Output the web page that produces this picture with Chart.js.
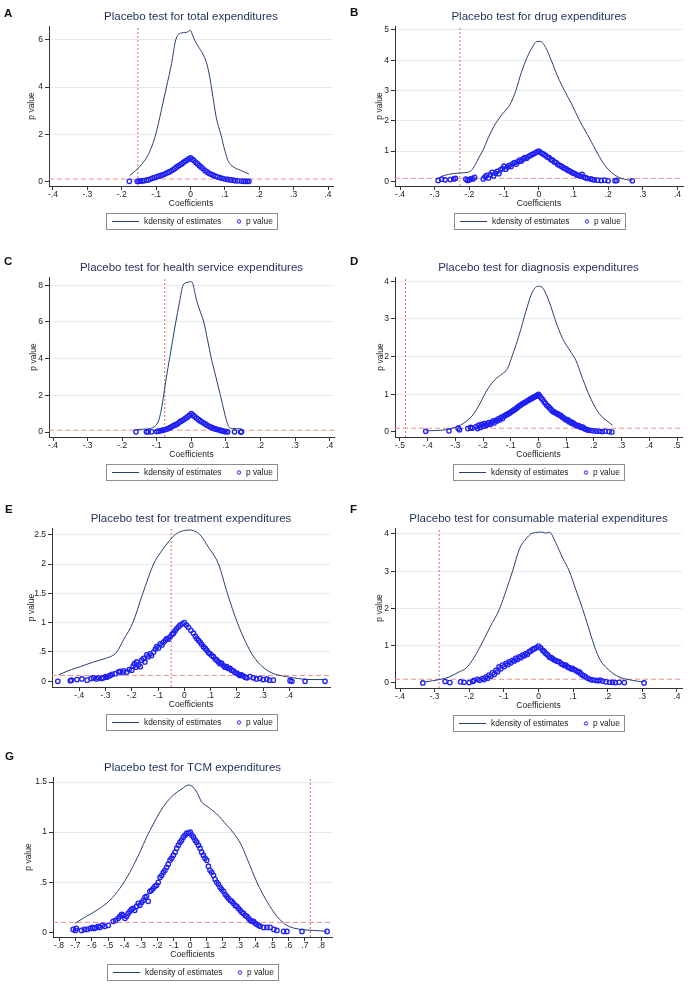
<!DOCTYPE html>
<html>
<head>
<meta charset="utf-8">
<script src="https://cdn.jsdelivr.net/npm/chart.js@4.4.0/dist/chart.umd.min.js"></script>
<style>
body { margin: 0; background: #fff; width: 693px; height: 992px; position: relative; overflow: hidden; font-family: "Liberation Sans", Arial, sans-serif; }
.panel { position: absolute; }
.tag { position: absolute; font-weight: bold; font-size: 11.5px; line-height: 11.5px; color: #111; }
</style>
</head>
<body>
<script>
// ---- data ----
const tick4 = [-0.4, -0.3, -0.2, -0.1, 0, 0.1, 0.2, 0.3, 0.4];
const tick5 = [-0.5, -0.4, -0.3, -0.2, -0.1, 0, 0.1, 0.2, 0.3, 0.4, 0.5];
const tick8 = [-0.8, -0.7, -0.6, -0.5, -0.4, -0.3, -0.2, -0.1, 0, 0.1, 0.2, 0.3, 0.4, 0.5, 0.6, 0.7, 0.8];

const aYTicks = [0, 2, 4, 6];
const bYTicks = [0, 1, 2, 3, 4, 5];
const cYTicks = [0, 2, 4, 6, 8];
const dYTicks = [0, 1, 2, 3, 4];
const eYTicks = [0, 0.5, 1, 1.5, 2, 2.5];
const fYTicks = [0, 1, 2, 3, 4];
const gYTicks = [0, 0.5, 1, 1.5];

const pThreshold = 0.1;

// A total
const aDensity = [[-0.177,0.24],[-0.16,0.45],[-0.148,0.62],[-0.135,0.85],[-0.124,1.1],[-0.112,1.5],[-0.101,2.0],[-0.085,3.0],[-0.07,4.0],[-0.055,5.0],[-0.043,6.0],[-0.029,6.28],[-0.012,6.32],[0,6.4],[0.006,6.2],[0.015,5.9],[0.03,5.55],[0.045,5.1],[0.055,4.5],[0.065,3.6],[0.075,2.7],[0.088,2.0],[0.1,1.3],[0.11,0.85],[0.124,0.62],[0.145,0.47],[0.17,0.31]];
const aPvalue = [[-0.178,0.0],[-0.155,0.0],[-0.15,0.01],[-0.145,0.01],[-0.14,0.02],[-0.135,0.03],[-0.128,0.05],[-0.122,0.07],[-0.116,0.1],[-0.11,0.14],[-0.104,0.16],[-0.098,0.19],[-0.092,0.22],[-0.086,0.25],[-0.08,0.28],[-0.074,0.32],[-0.068,0.36],[-0.062,0.4],[-0.056,0.45],[-0.05,0.5],[-0.045,0.55],[-0.04,0.61],[-0.035,0.66],[-0.03,0.7],[-0.025,0.75],[-0.02,0.81],[-0.015,0.86],[-0.01,0.9],[-0.005,0.95],[0,1.0],[0.005,0.94],[0.01,0.88],[0.015,0.81],[0.02,0.75],[0.025,0.68],[0.03,0.61],[0.036,0.54],[0.042,0.46],[0.048,0.4],[0.054,0.34],[0.06,0.3],[0.066,0.26],[0.072,0.22],[0.078,0.19],[0.085,0.16],[0.092,0.13],[0.1,0.1],[0.108,0.08],[0.116,0.06],[0.124,0.05],[0.13,0.03],[0.138,0.02],[0.148,0.01],[0.155,0.0],[0.16,0.0],[0.165,0.0],[0.17,0.0]];

// B drug
const bDensity = [[-0.282,0.16],[-0.26,0.23],[-0.235,0.27],[-0.21,0.29],[-0.195,0.35],[-0.183,0.55],[-0.172,0.8],[-0.162,1.0],[-0.145,1.45],[-0.13,1.8],[-0.119,2.0],[-0.105,2.22],[-0.094,2.36],[-0.08,2.6],[-0.066,3.0],[-0.05,3.6],[-0.037,4.0],[-0.02,4.4],[-0.005,4.62],[0.005,4.62],[0.02,4.42],[0.036,4.0],[0.055,3.45],[0.074,3.0],[0.095,2.55],[0.118,2.0],[0.14,1.55],[0.166,1.0],[0.185,0.62],[0.2,0.4],[0.22,0.2],[0.24,0.09],[0.27,0.03]];
const bPvalue = [[-0.29,0.03],[-0.28,0.07],[-0.27,0.05],[-0.255,0.06],[-0.245,0.08],[-0.24,0.1],[-0.21,0.07],[-0.205,0.03],[-0.2,0.05],[-0.195,0.09],[-0.19,0.08],[-0.185,0.13],[-0.16,0.08],[-0.155,0.15],[-0.15,0.2],[-0.145,0.11],[-0.14,0.22],[-0.135,0.3],[-0.13,0.18],[-0.125,0.27],[-0.12,0.33],[-0.115,0.25],[-0.11,0.38],[-0.105,0.42],[-0.1,0.5],[-0.095,0.4],[-0.09,0.47],[-0.085,0.53],[-0.08,0.49],[-0.075,0.58],[-0.07,0.62],[-0.065,0.57],[-0.06,0.65],[-0.055,0.7],[-0.05,0.67],[-0.045,0.74],[-0.04,0.78],[-0.035,0.76],[-0.03,0.82],[-0.025,0.85],[-0.02,0.88],[-0.015,0.91],[-0.01,0.94],[-0.005,0.97],[0,1.0],[0.005,0.96],[0.01,0.92],[0.015,0.89],[0.02,0.85],[0.025,0.8],[0.03,0.78],[0.035,0.72],[0.04,0.7],[0.045,0.64],[0.05,0.62],[0.055,0.56],[0.06,0.53],[0.065,0.5],[0.07,0.46],[0.075,0.43],[0.08,0.4],[0.085,0.36],[0.09,0.34],[0.095,0.3],[0.1,0.27],[0.105,0.25],[0.11,0.21],[0.115,0.2],[0.12,0.17],[0.125,0.23],[0.13,0.14],[0.135,0.12],[0.14,0.1],[0.15,0.08],[0.155,0.06],[0.16,0.05],[0.17,0.04],[0.18,0.03],[0.19,0.04],[0.2,0.02],[0.22,0.02],[0.225,0.03],[0.27,0.02]];

// C health service
const cDensity = [[-0.159,0.13],[-0.135,0.16],[-0.118,0.2],[-0.105,0.32],[-0.095,0.6],[-0.087,1.2],[-0.08,2.0],[-0.072,3.0],[-0.063,4.0],[-0.054,5.0],[-0.045,6.0],[-0.035,7.0],[-0.024,8.0],[-0.012,8.15],[-0.003,8.2],[0.005,8.05],[0.01,7.6],[0.014,7.27],[0.025,6.6],[0.036,6.0],[0.047,5.0],[0.058,4.0],[0.071,3.0],[0.084,2.0],[0.094,1.2],[0.102,0.6],[0.108,0.3],[0.115,0.2],[0.145,0.18]];
const cPvalue = [[-0.16,0.01],[-0.13,0.01],[-0.125,0.01],[-0.115,0.01],[-0.1,0.03],[-0.095,0.05],[-0.09,0.07],[-0.085,0.09],[-0.08,0.12],[-0.075,0.14],[-0.07,0.17],[-0.065,0.21],[-0.06,0.26],[-0.055,0.31],[-0.05,0.36],[-0.045,0.4],[-0.04,0.45],[-0.035,0.53],[-0.03,0.59],[-0.025,0.64],[-0.02,0.71],[-0.015,0.77],[-0.01,0.84],[-0.005,0.92],[0,1.0],[0.005,0.92],[0.01,0.84],[0.015,0.76],[0.02,0.69],[0.025,0.62],[0.03,0.56],[0.035,0.5],[0.04,0.44],[0.045,0.38],[0.05,0.33],[0.055,0.28],[0.06,0.24],[0.065,0.2],[0.07,0.17],[0.075,0.14],[0.08,0.12],[0.085,0.09],[0.09,0.06],[0.095,0.04],[0.1,0.02],[0.105,0.01],[0.125,0.01],[0.143,0.0],[0.145,0.01]];

// D diagnosis
const dDensity = [[-0.407,0.03],[-0.335,0.06],[-0.299,0.13],[-0.263,0.27],[-0.233,0.49],[-0.208,0.8],[-0.19,1.06],[-0.16,1.37],[-0.13,1.55],[-0.112,1.68],[-0.094,2.04],[-0.07,2.57],[-0.046,3.19],[-0.022,3.72],[0,3.87],[0.017,3.81],[0.039,3.45],[0.063,2.92],[0.087,2.48],[0.117,2.12],[0.135,1.9],[0.159,1.42],[0.189,0.88],[0.219,0.49],[0.267,0.18]];
const dPvalue = [[-0.407,0.02],[-0.323,0.03],[-0.29,0.1],[-0.285,0.06],[-0.255,0.09],[-0.245,0.12],[-0.24,0.1],[-0.225,0.14],[-0.22,0.09],[-0.215,0.18],[-0.21,0.12],[-0.205,0.2],[-0.2,0.15],[-0.195,0.22],[-0.19,0.17],[-0.185,0.21],[-0.18,0.25],[-0.175,0.2],[-0.17,0.24],[-0.165,0.29],[-0.16,0.24],[-0.155,0.31],[-0.15,0.29],[-0.145,0.35],[-0.14,0.32],[-0.135,0.39],[-0.13,0.36],[-0.125,0.42],[-0.12,0.44],[-0.115,0.46],[-0.11,0.48],[-0.105,0.5],[-0.1,0.53],[-0.095,0.55],[-0.09,0.58],[-0.085,0.6],[-0.08,0.63],[-0.075,0.66],[-0.07,0.69],[-0.065,0.71],[-0.06,0.74],[-0.055,0.76],[-0.05,0.78],[-0.045,0.8],[-0.04,0.83],[-0.035,0.85],[-0.03,0.87],[-0.025,0.89],[-0.02,0.91],[-0.015,0.93],[-0.01,0.95],[-0.005,0.97],[0,1.0],[0.005,0.95],[0.01,0.9],[0.015,0.86],[0.02,0.8],[0.025,0.76],[0.03,0.71],[0.035,0.68],[0.04,0.64],[0.045,0.6],[0.05,0.56],[0.055,0.53],[0.06,0.52],[0.065,0.49],[0.07,0.48],[0.075,0.45],[0.08,0.44],[0.085,0.4],[0.09,0.38],[0.095,0.35],[0.1,0.32],[0.105,0.33],[0.11,0.27],[0.115,0.28],[0.12,0.23],[0.125,0.24],[0.13,0.2],[0.135,0.19],[0.14,0.16],[0.145,0.17],[0.15,0.14],[0.155,0.12],[0.16,0.13],[0.165,0.09],[0.17,0.08],[0.175,0.06],[0.18,0.05],[0.19,0.04],[0.2,0.03],[0.21,0.02],[0.22,0.02],[0.23,0.01],[0.24,0.02],[0.255,0.01],[0.265,0.0]];

// E treatment
const eDensity = [[-0.479,0.11],[-0.43,0.2],[-0.396,0.25],[-0.346,0.33],[-0.3,0.39],[-0.269,0.45],[-0.257,0.5],[-0.23,0.72],[-0.196,1.0],[-0.158,1.5],[-0.117,2.0],[-0.09,2.2],[-0.06,2.38],[-0.035,2.5],[-0.01,2.56],[0.022,2.58],[0.045,2.55],[0.06,2.5],[0.09,2.3],[0.13,2.0],[0.164,1.5],[0.202,1.0],[0.253,0.5],[0.29,0.28],[0.33,0.15],[0.365,0.1],[0.415,0.06],[0.479,0.03],[0.536,0.03]];
const ePvalue = [[-0.482,0.0],[-0.434,0.01],[-0.43,0.02],[-0.409,0.03],[-0.39,0.04],[-0.37,0.02],[-0.355,0.05],[-0.346,0.06],[-0.335,0.04],[-0.327,0.06],[-0.315,0.05],[-0.308,0.06],[-0.3,0.08],[-0.295,0.07],[-0.288,0.09],[-0.282,0.1],[-0.275,0.12],[-0.263,0.13],[-0.25,0.16],[-0.244,0.17],[-0.235,0.15],[-0.231,0.18],[-0.219,0.16],[-0.21,0.2],[-0.2,0.19],[-0.195,0.26],[-0.19,0.3],[-0.185,0.24],[-0.181,0.33],[-0.175,0.28],[-0.168,0.25],[-0.162,0.36],[-0.155,0.39],[-0.15,0.33],[-0.143,0.45],[-0.137,0.42],[-0.13,0.47],[-0.125,0.44],[-0.117,0.5],[-0.11,0.55],[-0.105,0.59],[-0.098,0.57],[-0.092,0.64],[-0.085,0.62],[-0.079,0.67],[-0.072,0.7],[-0.067,0.73],[-0.06,0.72],[-0.054,0.76],[-0.047,0.8],[-0.041,0.82],[-0.035,0.86],[-0.029,0.9],[-0.022,0.93],[-0.016,0.96],[-0.008,0.98],[0,1.0],[0.008,0.96],[0.016,0.92],[0.025,0.87],[0.035,0.82],[0.042,0.77],[0.048,0.73],[0.054,0.7],[0.06,0.67],[0.066,0.63],[0.073,0.59],[0.08,0.56],[0.086,0.53],[0.092,0.49],[0.098,0.47],[0.105,0.44],[0.111,0.42],[0.118,0.38],[0.124,0.36],[0.13,0.33],[0.136,0.3],[0.142,0.31],[0.149,0.27],[0.155,0.24],[0.162,0.25],[0.168,0.22],[0.174,0.22],[0.18,0.19],[0.187,0.18],[0.193,0.15],[0.2,0.14],[0.206,0.12],[0.212,0.1],[0.218,0.11],[0.225,0.09],[0.232,0.07],[0.238,0.06],[0.25,0.08],[0.263,0.06],[0.275,0.04],[0.288,0.05],[0.3,0.03],[0.314,0.04],[0.325,0.02],[0.339,0.02],[0.403,0.01],[0.41,0.0],[0.46,0.0],[0.536,0.0]];

// F consumable material
const fDensity = [[-0.326,0.03],[-0.287,0.09],[-0.258,0.16],[-0.229,0.3],[-0.21,0.39],[-0.191,0.61],[-0.167,1.0],[-0.14,1.5],[-0.112,2.0],[-0.093,2.5],[-0.075,3.0],[-0.055,3.6],[-0.035,3.88],[-0.022,4.0],[-0.008,4.04],[0.012,4.05],[0.021,4.02],[0.031,4.05],[0.05,3.76],[0.07,3.35],[0.089,3.0],[0.108,2.5],[0.127,2.0],[0.144,1.5],[0.161,1.0],[0.178,0.62],[0.204,0.34],[0.233,0.16],[0.272,0.07],[0.3,0.03]];
const fPvalue = [[-0.334,0.0],[-0.27,0.04],[-0.256,0.01],[-0.225,0.03],[-0.215,0.02],[-0.2,0.01],[-0.19,0.04],[-0.186,0.07],[-0.176,0.1],[-0.17,0.07],[-0.162,0.12],[-0.157,0.09],[-0.152,0.16],[-0.147,0.13],[-0.143,0.21],[-0.138,0.18],[-0.133,0.27],[-0.128,0.23],[-0.123,0.34],[-0.118,0.3],[-0.114,0.43],[-0.109,0.38],[-0.104,0.48],[-0.099,0.44],[-0.094,0.52],[-0.089,0.49],[-0.085,0.57],[-0.08,0.54],[-0.075,0.61],[-0.07,0.59],[-0.066,0.66],[-0.061,0.63],[-0.056,0.7],[-0.051,0.68],[-0.046,0.75],[-0.041,0.73],[-0.037,0.79],[-0.032,0.77],[-0.027,0.84],[-0.022,0.86],[-0.017,0.9],[-0.012,0.92],[-0.006,0.95],[0,0.99],[0.006,0.94],[0.012,0.88],[0.017,0.84],[0.021,0.79],[0.026,0.76],[0.031,0.7],[0.036,0.68],[0.04,0.66],[0.045,0.62],[0.05,0.6],[0.055,0.58],[0.06,0.57],[0.065,0.52],[0.07,0.5],[0.075,0.47],[0.079,0.48],[0.084,0.43],[0.089,0.41],[0.094,0.38],[0.098,0.39],[0.103,0.36],[0.108,0.34],[0.113,0.3],[0.118,0.3],[0.122,0.25],[0.127,0.21],[0.132,0.19],[0.137,0.16],[0.144,0.12],[0.151,0.09],[0.158,0.08],[0.166,0.07],[0.172,0.06],[0.178,0.08],[0.185,0.05],[0.195,0.03],[0.205,0.02],[0.214,0.02],[0.222,0.01],[0.233,0.02],[0.248,0.01],[0.305,0.0]];

// G TCM
const gDensity = [[-0.704,0.09],[-0.633,0.16],[-0.551,0.24],[-0.49,0.32],[-0.429,0.44],[-0.368,0.6],[-0.307,0.8],[-0.266,0.95],[-0.225,1.08],[-0.185,1.2],[-0.143,1.3],[-0.103,1.37],[-0.052,1.43],[-0.011,1.47],[0.009,1.46],[0.04,1.4],[0.07,1.3],[0.101,1.26],[0.162,1.18],[0.223,1.07],[0.274,0.97],[0.315,0.86],[0.346,0.74],[0.407,0.5],[0.468,0.31],[0.529,0.16],[0.59,0.07],[0.672,0.03],[0.753,0.02],[0.835,0.01]];
const gPvalue = [[-0.714,0.03],[-0.7,0.02],[-0.694,0.04],[-0.663,0.02],[-0.645,0.03],[-0.629,0.03],[-0.61,0.04],[-0.596,0.05],[-0.585,0.04],[-0.572,0.05],[-0.56,0.06],[-0.551,0.05],[-0.535,0.07],[-0.521,0.06],[-0.5,0.07],[-0.47,0.11],[-0.455,0.12],[-0.439,0.14],[-0.429,0.16],[-0.418,0.18],[-0.409,0.17],[-0.398,0.14],[-0.388,0.16],[-0.378,0.19],[-0.368,0.21],[-0.358,0.23],[-0.348,0.24],[-0.338,0.22],[-0.327,0.26],[-0.317,0.29],[-0.307,0.27],[-0.296,0.3],[-0.286,0.32],[-0.276,0.35],[-0.266,0.36],[-0.256,0.31],[-0.246,0.41],[-0.236,0.42],[-0.225,0.44],[-0.215,0.46],[-0.205,0.47],[-0.195,0.5],[-0.184,0.55],[-0.174,0.57],[-0.164,0.6],[-0.154,0.62],[-0.144,0.65],[-0.134,0.68],[-0.123,0.72],[-0.113,0.74],[-0.103,0.77],[-0.092,0.8],[-0.082,0.84],[-0.072,0.87],[-0.062,0.9],[-0.052,0.92],[-0.042,0.95],[-0.031,0.97],[-0.021,0.99],[-0.01,0.99],[0,1.0],[0.01,0.97],[0.02,0.95],[0.03,0.92],[0.04,0.9],[0.05,0.87],[0.06,0.84],[0.07,0.8],[0.08,0.77],[0.09,0.74],[0.101,0.72],[0.111,0.66],[0.121,0.62],[0.131,0.6],[0.142,0.57],[0.152,0.53],[0.162,0.5],[0.172,0.48],[0.182,0.45],[0.192,0.43],[0.203,0.41],[0.213,0.38],[0.223,0.36],[0.233,0.34],[0.244,0.32],[0.254,0.31],[0.264,0.29],[0.274,0.27],[0.284,0.26],[0.294,0.24],[0.305,0.22],[0.315,0.2],[0.325,0.19],[0.335,0.17],[0.346,0.16],[0.356,0.14],[0.366,0.12],[0.376,0.11],[0.386,0.11],[0.397,0.09],[0.407,0.08],[0.417,0.07],[0.427,0.06],[0.448,0.05],[0.468,0.05],[0.488,0.05],[0.51,0.03],[0.529,0.02],[0.57,0.01],[0.59,0.01],[0.682,0.01],[0.835,0.01]];

// ---- layout of the seven panels ----
const FONT = "'Liberation Sans', Arial, sans-serif";
const NAVY = '#26406e';
const BLUE = 'rgb(30,30,245)';

const panels = [
    { tag: 'A', left: 0,   top: 0,   w: 346, h: 245, area: [49, 26, 333, 186],   xr: [-0.4116, 0.4145], yr: [-0.198, 6.59], xt: tick4, yt: aYTicks, vline: -0.153, ytx: 31.7, title: 'Placebo test for total expenditures', dens: aDensity, pv: aPvalue },
    { tag: 'B', left: 346, top: 0,   w: 347, h: 245, area: [49, 26, 337, 186],   xr: [-0.4145, 0.416],  yr: [-0.154, 5.13], xt: tick4, yt: bYTicks, vline: -0.2275, ytx: 33.3, title: 'Placebo test for drug expenditures', dens: bDensity, pv: bPvalue },
    { tag: 'C', left: 0,   top: 245, w: 346, h: 245, area: [49, 32, 334, 192],   xr: [-0.4116, 0.4125], yr: [-0.27, 8.45],  xt: tick4, yt: cYTicks, vline: -0.077, ytx: 33.3, title: 'Placebo test for health service expenditures', dens: cDensity, pv: cPvalue },
    { tag: 'D', left: 346, top: 245, w: 347, h: 245, area: [49, 32, 336, 192],   xr: [-0.518, 0.518],   yr: [-0.133, 4.115], xt: tick5, yt: dYTicks, vline: -0.48, ytx: 34.3, title: 'Placebo test for diagnosis expenditures', dens: dDensity, pv: dPvalue },
    { tag: 'E', left: 0,   top: 490, w: 346, h: 245, area: [52, 38, 330, 197],   xr: [-0.504, 0.555],   yr: [-0.097, 2.614], xt: tick4, yt: eYTicks, vline: -0.05, ytx: 31.7, title: 'Placebo test for treatment expenditures', dens: eDensity, pv: ePvalue },
    { tag: 'F', left: 346, top: 490, w: 347, h: 245, area: [49, 38, 336, 198],   xr: [-0.4145, 0.4145], yr: [-0.135, 4.16], xt: tick4, yt: fYTicks, vline: -0.287, ytx: 33.3, title: 'Placebo test for consumable material expenditures', dens: fDensity, pv: fPvalue },
    { tag: 'G', left: 0,   top: 735, w: 346, h: 257, area: [53, 42, 332, 202],   xr: [-0.837, 0.865],   yr: [-0.046, 1.55], xt: tick8, yt: gYTicks, vline: 0.733, ytx: 28.3, title: 'Placebo test for TCM expenditures', dens: gDensity, pv: gPvalue }
];

const tagPos = { A: [4, 8], B: [350, 7], C: [4, 256], D: [350, 256], E: [5, 504], F: [350, 504], G: [5, 751] };

// Stata style tick labels: -.4, 0, .5, 1.5
function stataLabel(v) {
    let s = String(Math.round(v * 10) / 10);
    return s.replace(/^(-?)0\./, '$1.');
}

const toXY = arr => arr.map(([x, y]) => ({ x: x, y: y }));

// legend box under the plot, centred on the plot region
const stataLegend = {
    id: 'stataLegend',
    afterDraw(chart) {
        const ctx = chart.ctx;
        const ca = chart.chartArea;
        const bw = 171, bh = 16;
        const bl = Math.round((ca.left + ca.right) / 2 - bw / 2);
        const bt = Math.round(ca.bottom + 27);
        const my = bt + bh / 2 + 0.5;
        const dsLine = chart.data.datasets[1];
        const dsPts = chart.data.datasets[0];
        ctx.save();
        ctx.fillStyle = '#fff';
        ctx.fillRect(bl, bt, bw, bh);
        ctx.strokeStyle = '#8c8c8c';
        ctx.lineWidth = 1;
        ctx.strokeRect(bl + 0.5, bt + 0.5, bw, bh);
        ctx.strokeStyle = NAVY;
        ctx.beginPath();
        ctx.moveTo(bl + 6, my);
        ctx.lineTo(bl + 33, my);
        ctx.stroke();
        ctx.fillStyle = '#1a1a1a';
        ctx.font = '8.3px ' + FONT;
        ctx.textBaseline = 'middle';
        ctx.fillText(dsLine.label, bl + 38, my);
        ctx.strokeStyle = BLUE;
        ctx.lineWidth = 1;
        ctx.beginPath();
        ctx.arc(bl + 133, my, 1.7, 0, Math.PI * 2);
        ctx.stroke();
        ctx.fillText(dsPts.label, bl + 140, my);
        ctx.restore();
    }
};

function drawPanel(p) {
    const [pl, pt, pr, pb] = p.area;
    const wrap = document.createElement('div');
    wrap.className = 'panel';
    wrap.style.left = p.left + 'px';
    wrap.style.top = p.top + 'px';
    const canvas = document.createElement('canvas');
    canvas.width = p.w;
    canvas.height = p.h;
    canvas.style.width = p.w + 'px';
    canvas.style.height = p.h + 'px';
    wrap.appendChild(canvas);
    document.body.appendChild(wrap);

    const titleSize = 11.5;
    const titleCenter = pt - 9;
    const xAxisH = 30;
    const small = { family: FONT, size: 8.5 };

    new Chart(canvas, {
        type: 'scatter',
        data: {
            datasets: [
                {
                    type: 'scatter',
                    label: 'p value',
                    data: toXY(p.pv),
                    pointStyle: 'circle',
                    pointRadius: 2.2,
                    borderColor: BLUE,
                    backgroundColor: 'rgba(0,0,0,0)',
                    borderWidth: 1.3,
                    order: 1
                },
                {
                    type: 'line',
                    label: 'kdensity of estimates',
                    data: toXY(p.dens),
                    borderColor: NAVY,
                    borderWidth: 1,
                    pointRadius: 0,
                    fill: false,
                    cubicInterpolationMode: 'monotone',
                    order: 2
                },
                {
                    type: 'line',
                    label: 'p = 0.1',
                    data: [{ x: p.xr[0], y: pThreshold }, { x: p.xr[1], y: pThreshold }],
                    borderColor: '#ec8f8f',
                    borderDash: [5, 3],
                    borderWidth: 1,
                    pointRadius: 0,
                    fill: false,
                    order: 3
                },
                {
                    type: 'line',
                    label: 'true estimate',
                    data: [{ x: p.vline, y: p.yr[0] }, { x: p.vline, y: p.yr[1] }],
                    borderColor: '#e06b6b',
                    borderDash: [2, 2],
                    borderWidth: 1,
                    pointRadius: 0,
                    fill: false,
                    order: 3
                }
            ]
        },
        options: {
            responsive: false,
            animation: false,
            events: [],
            layout: { padding: { left: 0, top: 0, right: p.w - pr, bottom: p.h - pb - xAxisH } },
            plugins: {
                legend: { display: false },
                tooltip: { enabled: false },
                title: {
                    display: true,
                    text: p.title,
                    fullSize: false,
                    color: '#1f2d5c',
                    font: { family: FONT, size: titleSize, weight: 'normal' },
                    padding: { top: titleCenter - titleSize * 0.6, bottom: pt - titleCenter - titleSize * 0.6 }
                }
            },
            scales: {
                x: {
                    type: 'linear',
                    min: p.xr[0],
                    max: p.xr[1],
                    afterBuildTicks: s => { s.ticks = p.xt.map(v => ({ value: v })); },
                    afterFit: s => { s.height = xAxisH; },
                    grid: { drawOnChartArea: false, tickLength: 4, tickColor: '#333' },
                    border: { color: '#333', width: 1 },
                    ticks: { autoSkip: false, maxRotation: 0, padding: 0, color: '#1a1a1a', font: small, callback: v => stataLabel(v) },
                    title: { display: true, text: 'Coefficients', color: '#1a1a1a', font: small, padding: { top: 0, bottom: 7.4 } }
                },
                y: {
                    type: 'linear',
                    min: p.yr[0],
                    max: p.yr[1],
                    afterBuildTicks: s => { s.ticks = p.yt.map(v => ({ value: v })); },
                    afterFit: s => { s.width = pl; },
                    grid: {
                        color: c => (c.tick && c.tick.value === 0) ? 'rgba(0,0,0,0)' : '#e5ebee',
                        tickLength: 4,
                        tickColor: '#333'
                    },
                    border: { color: '#333', width: 1 },
                    ticks: { autoSkip: false, padding: 2, color: '#1a1a1a', font: small, callback: v => stataLabel(v) },
                    title: { display: true, text: 'p value', color: '#1a1a1a', font: small, padding: { top: p.ytx - 5.1, bottom: 0 } }
                }
            }
        },
        plugins: [stataLegend]
    });

    const tag = document.createElement('div');
    tag.className = 'tag';
    tag.textContent = p.tag;
    tag.style.left = tagPos[p.tag][0] + 'px';
    tag.style.top = tagPos[p.tag][1] + 'px';
    document.body.appendChild(tag);
}

panels.forEach(drawPanel);
</script>
</body>
</html>
